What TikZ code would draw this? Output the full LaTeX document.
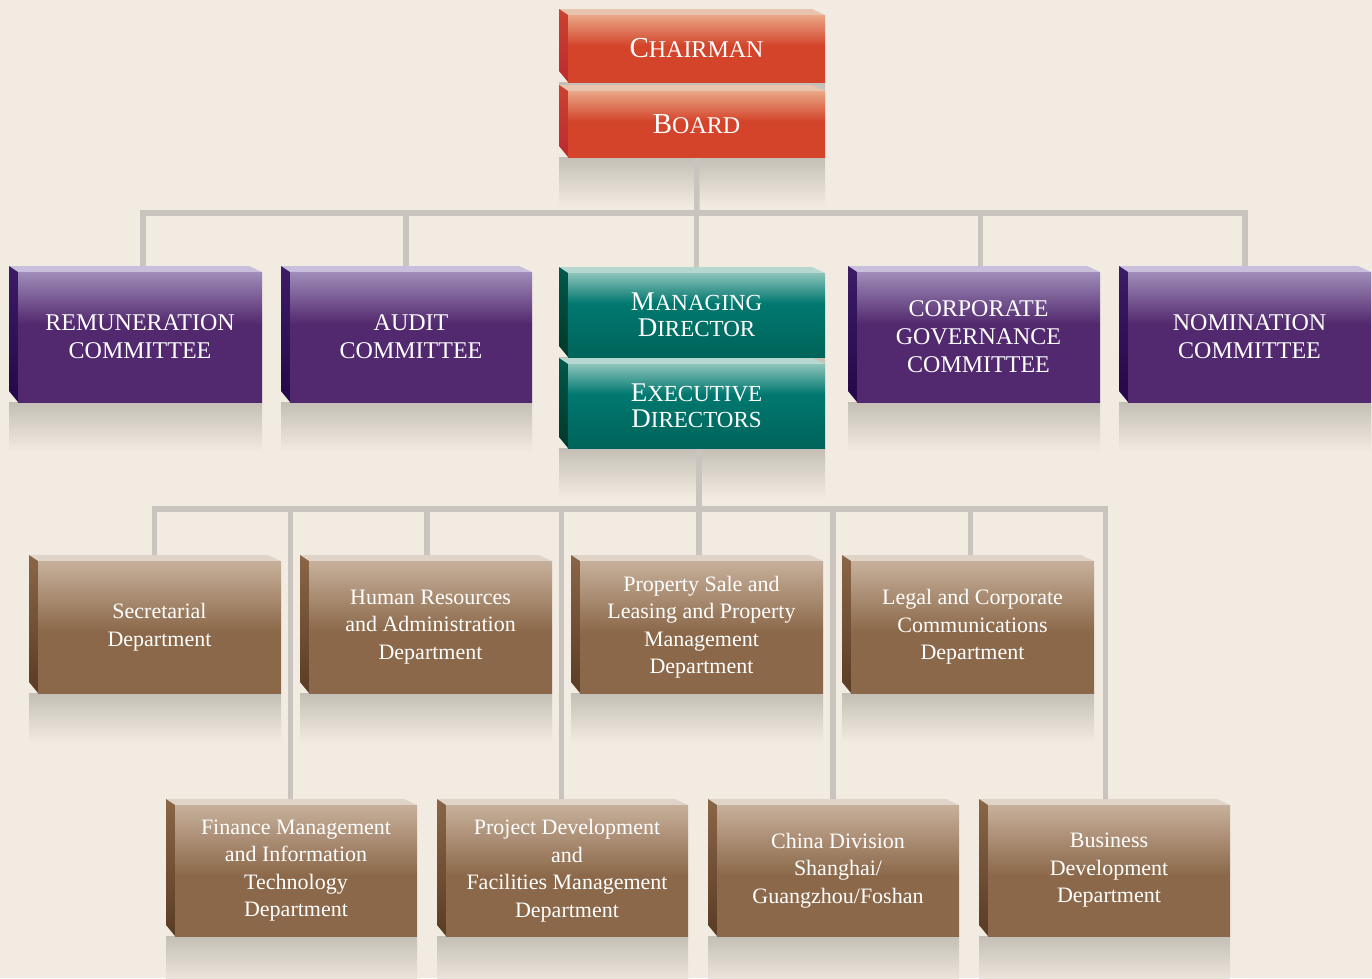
\documentclass[tikz,border=0pt]{standalone}
\usepackage{fontspec}
\setmainfont{Liberation Serif}
\usetikzlibrary{calc}
\pgfdeclarelayer{bgl}
\pgfdeclarelayer{refl}
\pgfdeclarelayer{lines}
\pgfsetlayers{bgl,refl,lines,main}
\definecolor{bgC}{HTML}{F2EBE1}
\definecolor{lineC}{HTML}{C9C5BE}
\definecolor{reflC}{HTML}{C4BFB6}
\definecolor{redL}{HTML}{EAA786}
\definecolor{redD}{HTML}{D3442B}
\definecolor{redTop}{HTML}{E8C3AE}
\definecolor{redSideT}{HTML}{CC4230}
\definecolor{redSideB}{HTML}{BC2A30}
\definecolor{purL}{HTML}{A08DB9}
\definecolor{purD}{HTML}{52296E}
\definecolor{purTop}{HTML}{C9BEDB}
\definecolor{purSideT}{HTML}{3C1C66}
\definecolor{purSideB}{HTML}{24084A}
\definecolor{tealL}{HTML}{8CC3BB}
\definecolor{tealM}{HTML}{00786F}
\definecolor{tealD}{HTML}{00645A}
\definecolor{tealTop}{HTML}{B6D6D0}
\definecolor{tealSideT}{HTML}{00594C}
\definecolor{tealSideB}{HTML}{00382A}
\definecolor{brnL}{HTML}{C7B09B}
\definecolor{brnD}{HTML}{8B6849}
\definecolor{brnTop}{HTML}{E0D4C8}
\definecolor{brnSideT}{HTML}{8A6647}
\definecolor{brnSideB}{HTML}{5A3B24}
% path box maps to 25bp (bottom) .. 75bp (top)
\pgfdeclareverticalshading{redsh}{100bp}{color(0bp)=(redD); color(52bp)=(redD); color(75bp)=(redL); color(100bp)=(redL)}
\pgfdeclareverticalshading{pursh}{100bp}{color(0bp)=(purD); color(55bp)=(purD); color(75bp)=(purL); color(100bp)=(purL)}
\pgfdeclareverticalshading{tealsh}{100bp}{color(0bp)=(tealD); color(25bp)=(tealD); color(57bp)=(tealM); color(75bp)=(tealL); color(100bp)=(tealL)}
\pgfdeclareverticalshading{brnsh}{100bp}{color(0bp)=(brnD); color(48bp)=(brnD); color(75bp)=(brnL); color(100bp)=(brnL)}
\tikzset{
  facebase/.style={inner sep=0pt, outer sep=0pt, text=white, align=center},
  redface/.style={facebase, shading=redsh, font={\fontsize{24}{26}\selectfont}},
  redtop/.style={fill=redTop},
  redside/.style={top color=redSideT, bottom color=redSideB},
  purface/.style={facebase, shading=pursh, font={\fontsize{24}{28}\selectfont}},
  purtop/.style={fill=purTop},
  purside/.style={top color=purSideT, bottom color=purSideB},
  tealface/.style={facebase, shading=tealsh, font={\fontsize{23}{25.5}\selectfont}},
  tealtop/.style={fill=tealTop},
  tealside/.style={top color=tealSideT, bottom color=tealSideB},
  brnface/.style={facebase, shading=brnsh, font={\fontsize{22}{27.5}\selectfont}},
  brntop/.style={fill=brnTop},
  brnside/.style={top color=brnSideT, bottom color=brnSideB},
  conn/.style={draw=lineC, line width=5.5pt, line join=miter},
}
% #1 name, #2 kind, #3 x1, #4 y1, #5 x2, #6 y2, #7 text
\newcommand\obox[7]{%
  \begin{pgfonlayer}{refl}
    \shade[top color=reflC, bottom color=bgC] (#3-9,#6) rectangle (#5,#6+50);
  \end{pgfonlayer}
  \fill[#2top] (#3-9,#4-6) -- (#5-13,#4-6) -- (#5,#4) -- (#3,#4) -- cycle;
  \shade[#2side] (#3-9,#4-6) -- (#3,#4) -- (#3,#6) -- (#3-9,#6-11) -- cycle;
  \node[#2face, minimum width={(#5-#3)*1pt}, minimum height={(#6-#4)*1pt}]
    (#1) at ({(#3+#5)/2},{(#4+#6)/2}) {#7};
}
\newcommand\scA[2]{{\fontsize{29}{26}\selectfont #1}{\fontsize{24}{26}\selectfont #2}}
\newcommand\scB[2]{{\fontsize{27}{25.5}\selectfont #1}{\fontsize{23}{25.5}\selectfont #2}}
\begin{document}
\begin{tikzpicture}[x=1pt, y=-1pt]
\useasboundingbox (0,0) rectangle (1372,978);
\clip (0,0) rectangle (1372,978);
\begin{pgfonlayer}{bgl}
\fill[bgC] (0,0) rectangle (1372,978);
\end{pgfonlayer}

% top
\obox{chair}{red}{568}{15}{825}{82}{\scA{C}{HAIRMAN}}
\obox{board}{red}{568}{91}{825}{157}{\scA{B}{OARD}}

% committees
\obox{rem}{pur}{18}{272}{262}{402}{REMUNERATION\\COMMITTEE}
\obox{aud}{pur}{290}{272}{532}{402}{AUDIT\\COMMITTEE}
\obox{cg}{pur}{857}{272}{1100}{402}{CORPORATE\\GOVERNANCE\\COMMITTEE}
\obox{nom}{pur}{1128}{272}{1371}{402}{NOMINATION\\COMMITTEE}

% directors
\obox{md}{teal}{568}{273}{825}{357}{\scB{M}{ANAGING}\\\scB{D}{IRECTOR}}
\obox{ex}{teal}{568}{364}{825}{448}{\scB{E}{XECUTIVE}\\\scB{D}{IRECTORS}}

% departments row 1
\obox{sec}{brn}{38}{561}{281}{693}{Secretarial\\Department}
\obox{hr}{brn}{309}{561}{552}{693}{Human Resources\\and Administration\\Department}
\obox{prop}{brn}{580}{561}{823}{693}{Property Sale and\\Leasing and Property\\Management\\Department}
\obox{legal}{brn}{851}{561}{1094}{693}{Legal and Corporate\\Communications\\Department}

% departments row 2
\obox{fin}{brn}{175}{805}{417}{936}{Finance Management\\and Information\\Technology\\Department}
\obox{proj}{brn}{446}{805}{688}{936}{Project Development\\and\\Facilities Management\\Department}
\obox{china}{brn}{717}{805}{959}{936}{China Division\\Shanghai/\\Guangzhou/Foshan}
\obox{bus}{brn}{988}{805}{1230}{936}{Business\\Development\\Department}

% connectors
\begin{pgfonlayer}{lines}
\coordinate (bus1) at (697,213);
\coordinate (bus2) at (699,509);
\draw[conn] ([xshift=3pt]rem.north) |- (bus1) -| ([xshift=-4.5pt]nom.north);
\draw[conn] (board.south) -- (bus1);
\draw[conn] ([xshift=-5pt]aud.north) |- (bus1);
\draw[conn] (md.north) -- (md.north |- bus1);
\draw[conn] ([xshift=2pt]cg.north) |- (bus1);

\draw[conn] ([xshift=-5pt]sec.north) |- (bus2) -| ([xshift=-3.5pt]bus.north);
\draw[conn] ([xshift=2.5pt]ex.south) -- ([xshift=-2.5pt]prop.north);
\draw[conn] ([xshift=-5.5pt]fin.north) |- (bus2);
\draw[conn] ([xshift=-3.5pt]hr.north) |- (bus2);
\draw[conn] ([xshift=-5.5pt]proj.north) |- (bus2);
\draw[conn] ([xshift=-5pt]china.north) |- (bus2);
\draw[conn] ([xshift=-2pt]legal.north) |- (bus2);
\end{pgfonlayer}
\end{tikzpicture}
\end{document}
